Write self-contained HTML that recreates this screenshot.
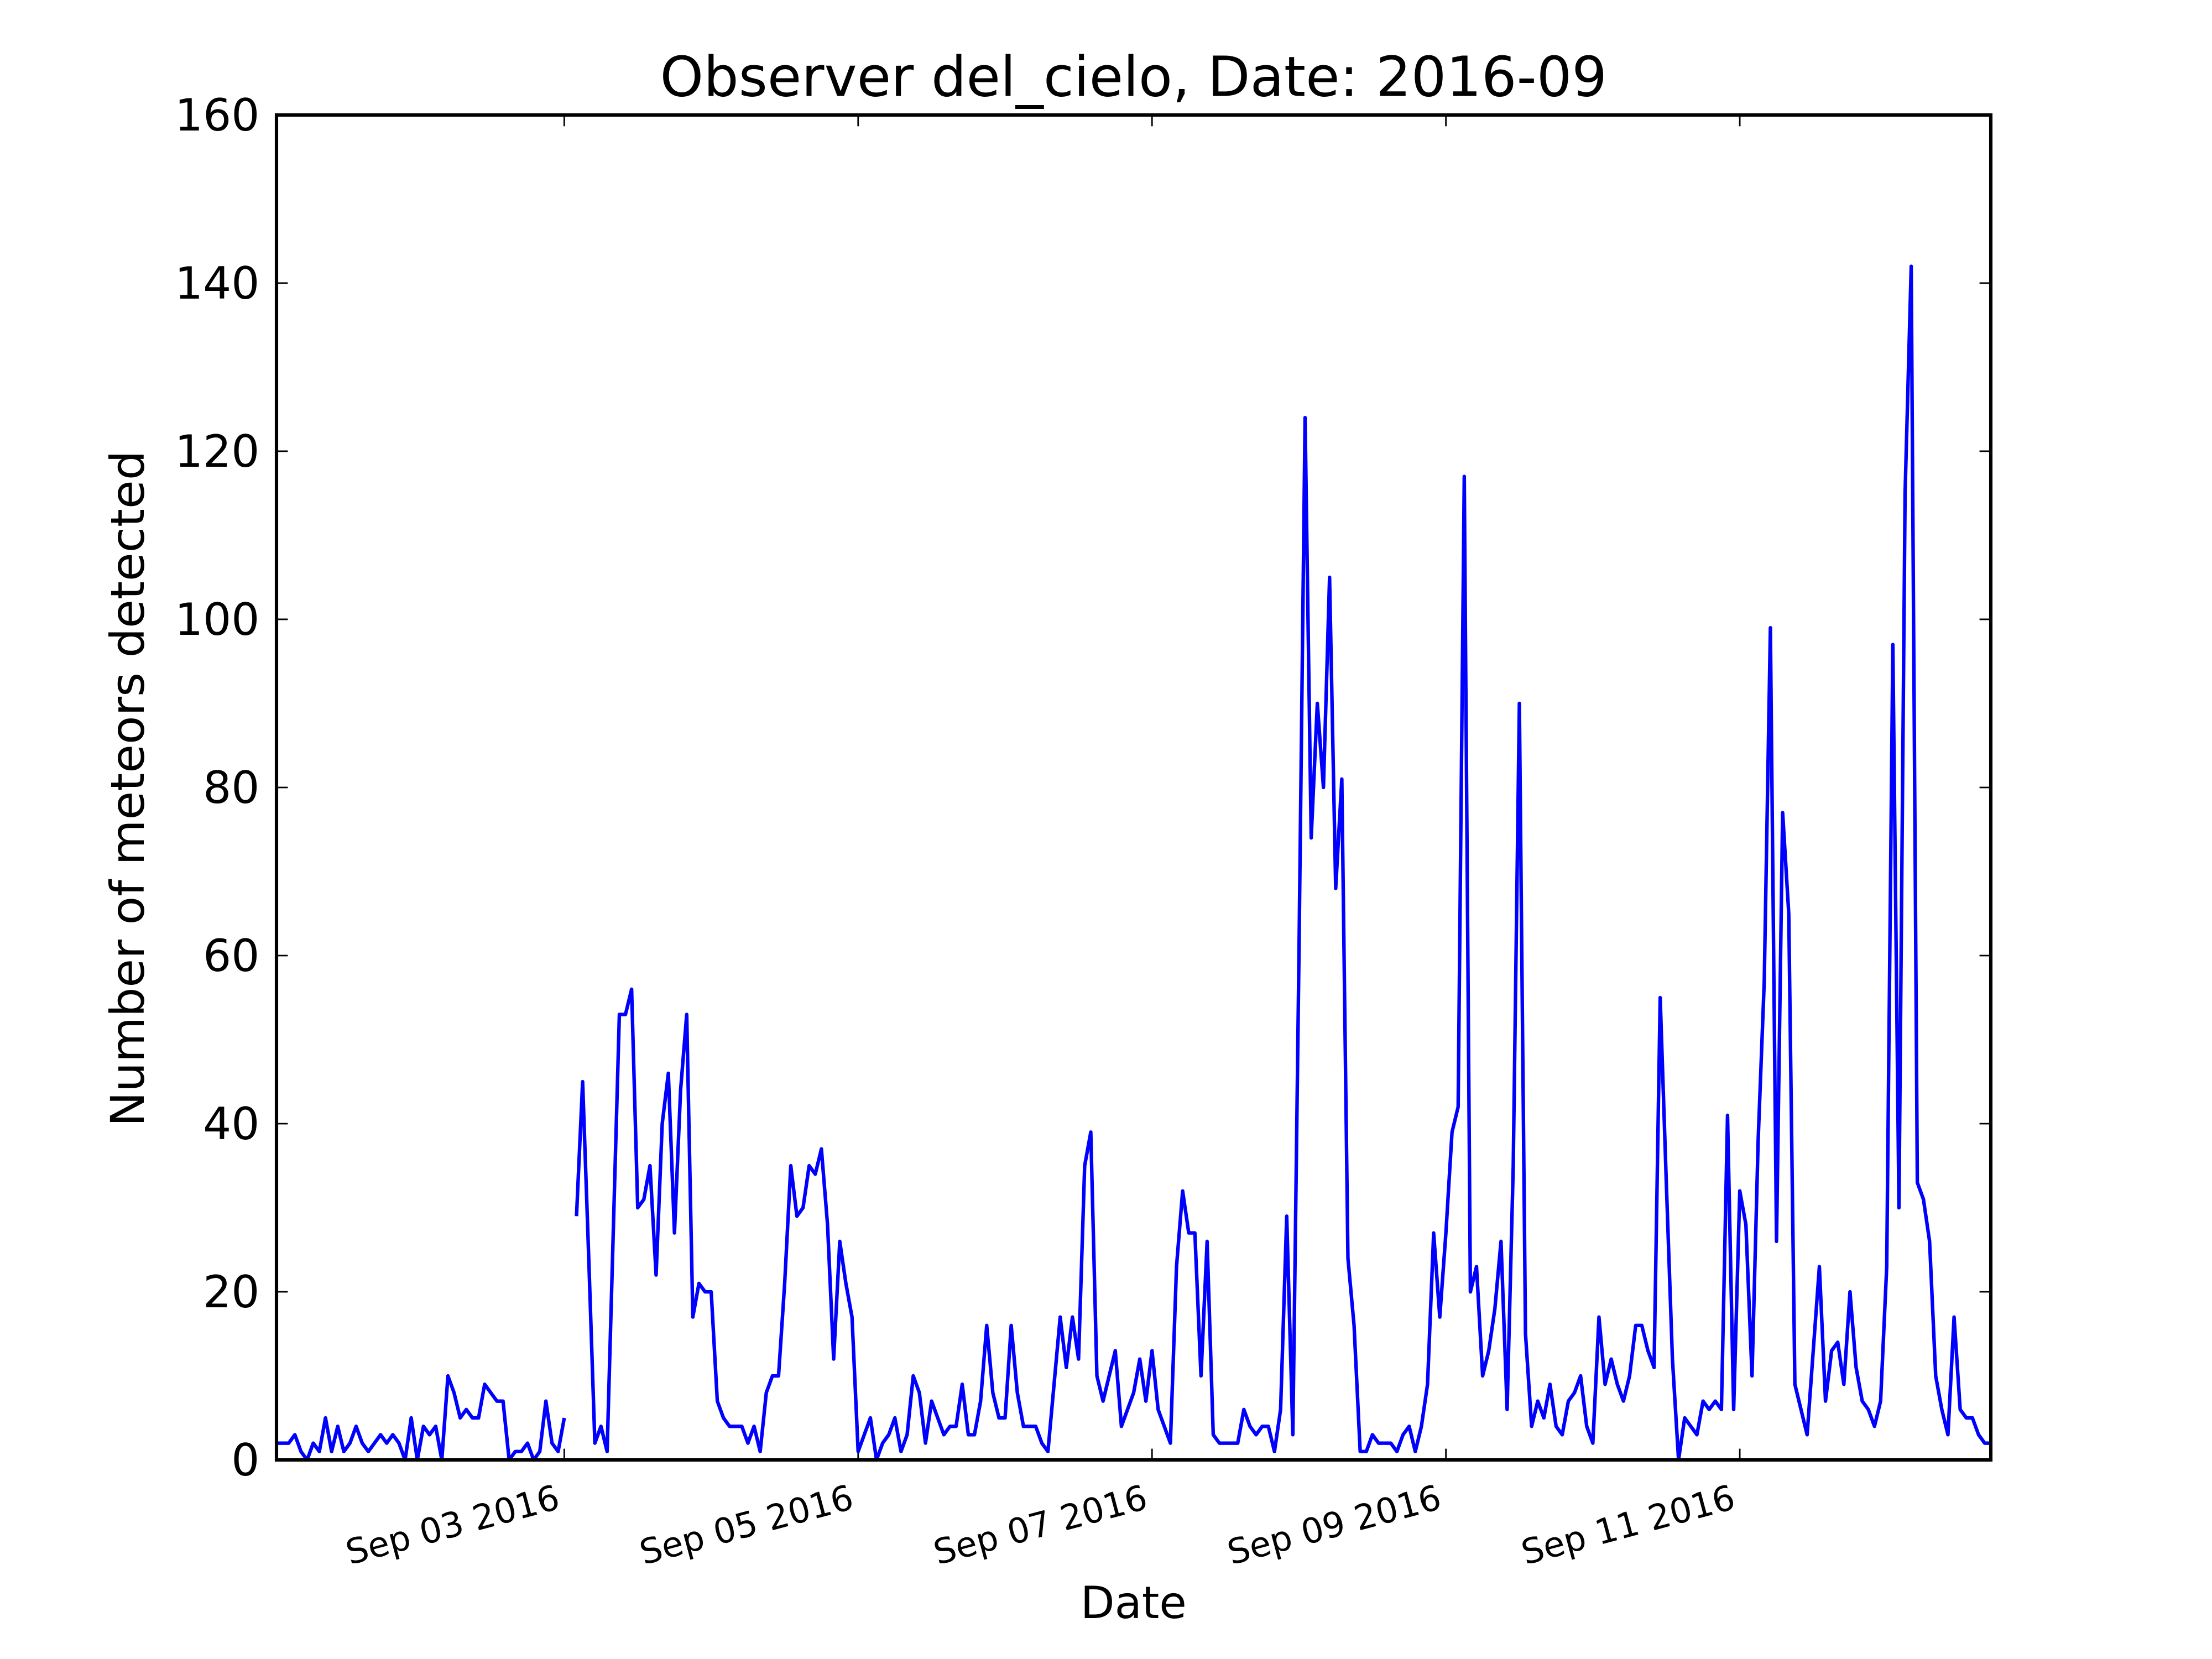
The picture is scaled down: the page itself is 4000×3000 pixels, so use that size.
<!DOCTYPE html>
<html>
<head>
<meta charset="utf-8">
<style>
  html, body { margin:0; padding:0; background:#fff; }
  svg { display:block; }
  text { font-family: "DejaVu Sans", "Liberation Sans", sans-serif; fill:#000; }
</style>
</head>
<body>
<svg id="chart" width="4000" height="3000" viewBox="0 0 1568 1176" xmlns="http://www.w3.org/2000/svg">
  <rect x="0" y="0" width="1568" height="1176" fill="#fff"/>
  <text x="803.5" y="68" font-size="39.2" text-anchor="middle">Observer del_cielo, Date: 2016-09</text>
  <text x="803.5" y="1147" font-size="31.5" text-anchor="middle">Date</text>
  <text transform="translate(102,559) rotate(-90)" font-size="33" text-anchor="middle">Number of meteors detected</text>
  <g id="yticks"></g>
  <g id="xticks"></g>
  <g id="series"></g>
  <rect x="196" y="81.5" width="1215.2" height="953.4" fill="none" stroke="#000" stroke-width="2.4"/>
</svg>
<script>
// ---- data ----
const hourValues = [
  2,2,2,3,1,0,2,1,5,1,4,1,2,4,2,1,2,3,2,3,2,0,5,0,4,3,4,0,10,8,5,6,5,5,9,8,7,7,0,1,1,2,0,1,7,2,1,5,
  null,
  29,45,24,2,4,1,27,53,53,56,30,31,35,22,40,46,27,44,53,17,21,20,
  20,7,5,4,4,4,2,4,1,8,10,10,21,35,29,30,35,34,37,28,12,26,21,17,1,3,5,0,2,3,5,1,3,10,8,2,
  7,5,3,4,4,9,3,3,7,16,8,5,5,16,8,4,4,4,2,1,9,17,11,17,12,35,39,10,7,10,13,4,6,8,12,
  7,13,6,4,2,23,32,27,27,10,26,3,2,2,2,2,6,4,3,4,4,1,6,29,3,60,124,74,90,80,105,68,81,24,
  16,1,1,3,2,2,2,1,3,4,1,4,9,27,17,27,39,42,117,20,23,10,13,18,26,6,35,90,15,4,7,5,9,4,3,
  7,8,10,4,2,17,9,12,9,7,10,16,16,13,11,55,33,12,0,5,4,3,7,6,7,6,41,6,32,28,10,38,57,99,26,
  77,65,9,6,3,13,23,7,13,14,9,20,11,7,6,4,7,23,97,30,115,142,33,31,26,10,6,3,17,6,5,5,3,2,2
];
const yTickValues = [0,20,40,60,80,100,120,140,160];
const xTickLabels = ["Sep 03 2016","Sep 05 2016","Sep 07 2016","Sep 09 2016","Sep 11 2016"];
const xTickHours = [47,95,143,191,239];

// ---- axes ----
const L = 196, R = 1411.2, T = 81.5, B = 1034.9;
const NS = "http://www.w3.org/2000/svg";
const xMax = hourValues.length - 1;
function xScale(h){ return L + (h / xMax) * (R - L); }
function yScale(v){ return B - (v / 160) * (B - T); }
function mk(tag, attrs, parent){
  const e = document.createElementNS(NS, tag);
  for (const k in attrs) e.setAttribute(k, attrs[k]);
  parent.appendChild(e);
  return e;
}

const yg = document.getElementById('yticks');
yTickValues.forEach(v => {
  const y = yScale(v);
  const t1 = mk('line', {x1:L, x2:L+8, y1:y, y2:y, stroke:'#000', 'stroke-width':1.1}, yg);
  
  
  const t2 = mk('line', {x1:R-8, x2:R, y1:y, y2:y, stroke:'#000', 'stroke-width':1.1}, yg);
  
  
  const lab = mk('text', {x:L-12, y:y+11, 'font-size':31.5, 'text-anchor':'end'}, yg);
  
  
  lab.textContent = String(v);
});

const xg = document.getElementById('xticks');
xTickHours.forEach((h, i) => {
  const x = xScale(h);
  const b1 = mk('line', {x1:x, x2:x, y1:B, y2:B-8, stroke:'#000', 'stroke-width':1.1}, xg);
  
  
  const b2 = mk('line', {x1:x, x2:x, y1:T, y2:T+8, stroke:'#000', 'stroke-width':1.1}, xg);
  
  
  const lab = mk('text', {transform:'translate(' + (x-2) + ',1069) rotate(-15)', 'font-size':24.5, 'text-anchor':'end'}, xg);
  
  
  lab.textContent = xTickLabels[i];
});

// ---- series ----
const sg = document.getElementById('series');
let d = '', pen = false;
hourValues.forEach((v, h) => {
  if (v === null) { pen = false; return; }
  d += (pen ? 'L' : 'M') + xScale(h).toFixed(2) + ' ' + yScale(v).toFixed(2) + ' ';
  pen = true;
});
const line = mk('path', {d:d, fill:'none', stroke:'#0000ff', 'stroke-width':2.5, 'stroke-linejoin':'round'}, sg);


</script>
</body>
</html>
